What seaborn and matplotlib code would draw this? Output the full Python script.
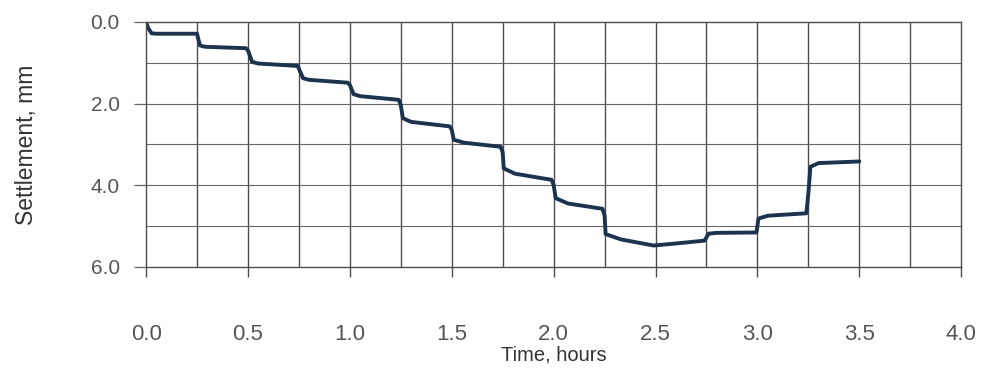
import numpy as np
import pandas as pd
import matplotlib
matplotlib.use("Agg")
import matplotlib.pyplot as plt
import seaborn as sns

# time (hours) vs settlement (mm)
time_h = [0.0, 0.01, 0.027, 0.05, 0.25,
          0.255, 0.265, 0.29, 0.49,
          0.5, 0.52, 0.55, 0.745,
          0.75, 0.77, 0.8, 0.99,
          1.0, 1.018, 1.05, 1.24,
          1.25, 1.26, 1.3, 1.49,
          1.5, 1.51, 1.56, 1.74,
          1.75, 1.755, 1.81, 1.99,
          2.0, 2.01, 2.07, 2.24,
          2.25, 2.255, 2.33, 2.49,
          2.6, 2.74,
          2.75, 2.76, 2.8, 2.995,
          3.0, 3.005, 3.05, 3.24,
          3.25, 3.26, 3.3, 3.5]
settlement_mm = [0.0, 0.15, 0.28, 0.29, 0.29,
                 0.40, 0.58, 0.61, 0.645,
                 0.70, 0.98, 1.02, 1.08,
                 1.15, 1.38, 1.42, 1.49,
                 1.55, 1.77, 1.82, 1.91,
                 2.05, 2.36, 2.45, 2.56,
                 2.65, 2.89, 2.96, 3.06,
                 3.20, 3.59, 3.72, 3.87,
                 4.00, 4.32, 4.45, 4.58,
                 4.75, 5.20, 5.33, 5.48,
                 5.43, 5.36,
                 5.28, 5.19, 5.17, 5.16,
                 5.00, 4.82, 4.75, 4.69,
                 4.20, 3.55, 3.46, 3.42]

x_ticks = [0.0, 0.5, 1.0, 1.5, 2.0, 2.5, 3.0, 3.5, 4.0]
y_ticks = [0.0, 2.0, 4.0, 6.0]

df = pd.DataFrame({"time": time_h, "settlement": settlement_mm})

sns.set_style("white")
plt.rcParams["font.family"] = ["Liberation Sans", "DejaVu Sans"]

fig = plt.figure(figsize=(9.94, 3.71), dpi=100)
ax = fig.add_axes([0.147, 0.281, 0.820, 0.660])

sns.lineplot(data=df, x="time", y="settlement", sort=False, estimator=None,
             color="#1c3350", linewidth=2.8, ax=ax)

ax.set_xlim(0, 4.0)
ax.set_ylim(6.0, 0.0)

# grid: every 0.25 h vertically, every 1 mm horizontally
for gx in np.arange(0.25, 4.0, 0.25):
    ax.axvline(gx, color="#4d4d4d", linewidth=1.0, zorder=0)
for gy in np.arange(1.0, 6.0, 1.0):
    ax.axhline(gy, color="#666666", linewidth=0.8, zorder=0)

for side in ["left", "right", "top", "bottom"]:
    ax.spines[side].set_color("#4d4d4d")
    ax.spines[side].set_linewidth(1.0)

ax.set_xticks(x_ticks)
ax.set_yticks(y_ticks)
ax.set_xticklabels([f"{v:.1f}" for v in x_ticks], fontsize=16, color="#555555")
ax.set_yticklabels([f"{v:.1f}" for v in y_ticks], fontsize=15, color="#555555")
ax.tick_params(axis="x", bottom=True, direction="out", length=7, width=1.0,
               color="#4d4d4d", pad=34)
ax.tick_params(axis="y", left=True, direction="out", length=9, width=0.9,
               color="#666666", pad=10)

ax.set_xlabel("Time, hours", fontsize=14.5, color="#333333")
ax.xaxis.set_label_coords(0.5, -0.322)
ax.set_ylabel("Settlement, mm", fontsize=16.5, color="#333333")
ax.yaxis.set_label_coords(-0.133, 0.5)

fig.savefig("out.png", dpi=100, facecolor="white")
